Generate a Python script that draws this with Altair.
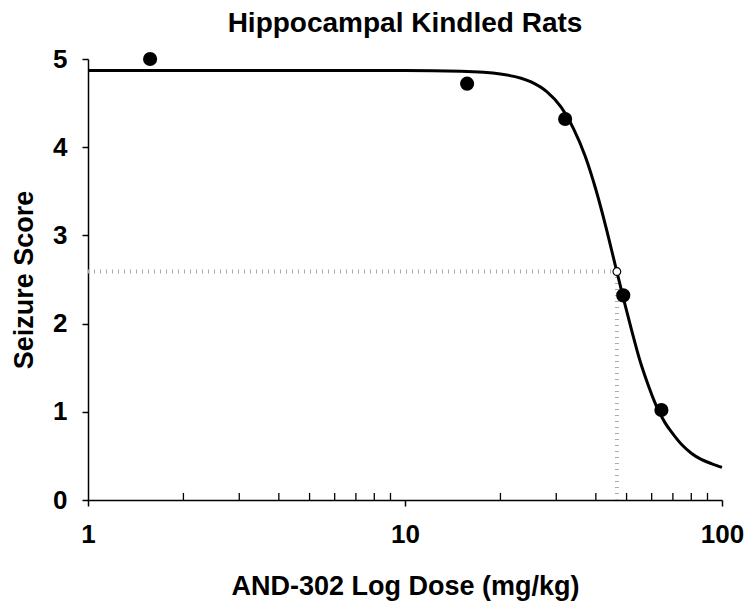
import altair as alt
import pandas as pd

# observed data points
dose = [1.57, 15.7, 32.0, 48.8, 64.4]
score = [5.0, 4.72, 4.32, 2.32, 1.02]

# ED50 marker
ed50_dose = [46.6]
ed50_score = [2.59]

# fitted curve
curve_dose = [1, 2, 5, 10, 15, 20, 25, 28, 31, 34, 37, 40, 43, 46, 49, 52, 55,
              58, 62, 66, 70, 75, 80, 86, 93, 100]
curve_score = [4.87, 4.87, 4.87, 4.87, 4.86, 4.83, 4.74, 4.63, 4.46, 4.21, 3.90,
               3.52, 3.10, 2.67, 2.27, 1.91, 1.59, 1.34, 1.07, 0.88, 0.75, 0.62,
               0.53, 0.46, 0.41, 0.37]

# minor tick positions on the log axis
minor_ticks = [2, 3, 4, 5, 6, 7, 8, 9, 20, 30, 40, 50, 60, 70, 80, 90]
major_ticks = [1, 10, 100]
y_ticks = [0, 1, 2, 3, 4, 5]

FONT = "Liberation Sans"

xscale = alt.Scale(type="log", domain=[1, 100], nice=False)
yscale = alt.Scale(domain=[0, 5], nice=False)

pts = pd.DataFrame({"dose": dose, "score": score})
curve = pd.DataFrame({"dose": curve_dose, "score": curve_score})
ed = pd.DataFrame({"dose": ed50_dose, "score": ed50_score, "x0": [1], "y0": [0]})
minor = pd.DataFrame({"dose": minor_ticks, "y0": [0] * len(minor_ticks),
                      "y1": [0.08] * len(minor_ticks)})

xaxis = alt.Axis(values=major_ticks, format=".0f", title="AND-302 Log Dose (mg/kg)",
                 labelPadding=15, titlePadding=26, tickSize=6, labelFlush=False)
yaxis = alt.Axis(values=y_ticks, format="d", title="Seizure Score",
                 labelPadding=15, titlePadding=14, tickSize=6, labelFlush=False)

base_x = alt.X("dose:Q", scale=xscale, axis=xaxis)
base_y = alt.Y("score:Q", scale=yscale, axis=yaxis)

hline = alt.Chart(ed).mark_rule(color="#aaaaaa", strokeWidth=4, strokeDash=[1, 5]).encode(
    x=alt.X("x0:Q", scale=xscale, axis=xaxis),
    x2="dose:Q",
    y=alt.Y("score:Q", scale=yscale, axis=yaxis),
)
vline = alt.Chart(ed).mark_rule(color="#aaaaaa", strokeWidth=4, strokeDash=[1, 5]).encode(
    x=base_x,
    y=alt.Y("y0:Q", scale=yscale, axis=yaxis),
    y2="score:Q",
)
minor_rules = alt.Chart(minor).mark_rule(color="black", strokeWidth=1.3).encode(
    x=base_x,
    y=alt.Y("y0:Q", scale=yscale, axis=yaxis),
    y2="y1:Q",
)
line = alt.Chart(curve).mark_line(color="black", strokeWidth=3, interpolate="monotone").encode(
    x=base_x, y=base_y
)
dots = alt.Chart(pts).mark_circle(color="black", size=200, opacity=1).encode(
    x=base_x, y=base_y
)
open_dot = alt.Chart(ed).mark_point(shape="circle", filled=True, fill="white",
                                    stroke="black", strokeWidth=1.2, size=60,
                                    opacity=1).encode(x=base_x, y=base_y)

chart = alt.layer(hline, vline, minor_rules, line, dots, open_dot).properties(
    width=634,
    height=441,
    background="white",
    autosize=alt.AutoSizeParams(type="none"),
    padding={"left": 80, "top": 51, "right": 24, "bottom": 102},
    title=alt.TitleParams("Hippocampal Kindled Rats", font=FONT, fontSize=28,
                          fontWeight="bold", color="black", frame="group",
                          baseline="alphabetic", offset=18, dy=32, anchor="middle"),
).configure_view(stroke=None).configure_axis(
    grid=False,
    domainColor="black",
    domainWidth=1.5,
    tickColor="black",
    tickWidth=1.5,
    labelFont=FONT,
    labelFontSize=26,
    labelFontWeight="bold",
    labelColor="black",
    titleFont=FONT,
    titleFontSize=27,
    titleFontWeight="bold",
    titleColor="black",
)

chart.save("out.html", embed_options={"renderer": "svg", "actions": False})
